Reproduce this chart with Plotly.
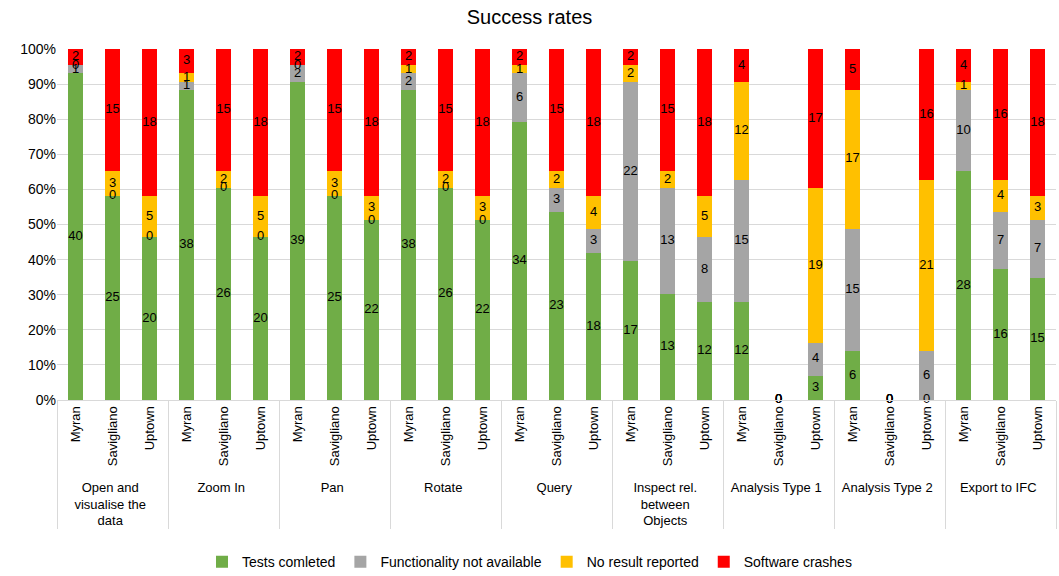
import plotly.graph_objects as go

groups = ["Open and<br>visualise the<br>data", "Zoom In", "Pan", "Rotate", "Query",
          "Inspect rel.<br>between<br>Objects", "Analysis Type 1", "Analysis Type 2", "Export to IFC"]
projects = ["Myran", "Savigliano", "Uptown"]

# values per bar, ordered group by group, project by project
tests_completed = [40, 25, 20, 38, 26, 20, 39, 25, 22, 38, 26, 22, 34, 23, 18,
                   17, 13, 12, 12, 0, 3, 6, 0, 0, 28, 16, 15]
not_available = [1, 0, 0, 1, 0, 0, 2, 0, 0, 2, 0, 0, 6, 3, 3,
                 22, 13, 8, 15, 0, 4, 15, 0, 6, 10, 7, 7]
no_result = [0, 3, 5, 1, 2, 5, 0, 3, 3, 1, 2, 3, 1, 2, 4,
             2, 2, 5, 12, 0, 19, 17, 0, 21, 1, 4, 3]
crashes = [2, 15, 18, 3, 15, 18, 2, 15, 18, 2, 15, 18, 2, 15, 18,
           2, 15, 18, 4, 0, 17, 5, 0, 16, 4, 16, 18]

series = [
    ("Tests comleted", tests_completed, "#70AD47"),
    ("Functionality not available", not_available, "#A5A5A5"),
    ("No result reported", no_result, "#FFC000"),
    ("Software crashes", crashes, "#FF0000"),
]

xg = [g for g in groups for _ in projects]
xs = [p for _ in groups for p in projects]
x = [xg, xs]

FONT = "Liberation Sans, Arial, sans-serif"

fig = go.Figure()
for name, vals, col in series:
    fig.add_trace(go.Bar(x=x, y=vals, name=name, marker_color=col,
                         marker_line_width=0, hoverinfo="skip"))

# labels at segment midpoints (percent scale)
totals = [sum(v) for v in zip(*[s[1] for s in series])]
lx_g, lx_s, ly, lt = [], [], [], []
cum = [0.0] * len(totals)
for name, vals, col in series:
    for i, v in enumerate(vals):
        t = totals[i]
        if t > 0:
            bottom = cum[i] / t * 100
            mid = bottom + v / t * 50
            cum[i] += v
        else:
            mid = 0.0
        lx_g.append(xg[i]); lx_s.append(xs[i]); ly.append(mid); lt.append(str(v))

fig.add_trace(go.Scatter(x=[lx_g, lx_s], y=ly, text=lt, mode="text",
                         textfont=dict(family=FONT, size=13, color="black"),
                         showlegend=False, hoverinfo="skip", cliponaxis=False))

fig.update_layout(
    barmode="stack", barnorm="percent", bargap=0.62,
    width=1059, height=576,
    margin=dict(l=57, r=3, t=49, b=176, autoexpand=False),
    paper_bgcolor="white", plot_bgcolor="white",
    title=dict(text="Success rates", x=0.5, xref="container", y=0.97, yref="container",
               yanchor="middle", font=dict(family=FONT, size=20, color="black")),
    font=dict(family=FONT, color="black"),
    legend=dict(orientation="h", x=0.5, xref="container", xanchor="center",
                y=0.024, yref="container", yanchor="middle", traceorder="normal",
                font=dict(family=FONT, size=14, color="black"),
                tracegroupgap=0),
    showlegend=True,
)
fig.update_yaxes(range=[0, 100], tickvals=[0, 10, 20, 30, 40, 50, 60, 70, 80, 90, 100],
                 ticktext=[f"{v}%" for v in range(0, 101, 10)],
                 showgrid=True, gridcolor="#D9D9D9", gridwidth=1,
                 tickfont=dict(family=FONT, size=14, color="black"),
                 zeroline=False, showline=False, ticks="", automargin=False)
fig.update_xaxes(type="multicategory", tickangle=-90, range=[-0.5, len(xs) - 0.5],
                 tickfont=dict(family=FONT, size=13, color="black"),
                 showline=True, linecolor="#D9D9D9", linewidth=1,
                 showdividers=True, dividercolor="#D9D9D9", dividerwidth=1,
                 showgrid=False, ticks="", automargin=False)

fig.write_html("out.html", config={"displayModeBar": False},
               post_script="document.body.style.margin='0';document.body.style.overflow='hidden';")
